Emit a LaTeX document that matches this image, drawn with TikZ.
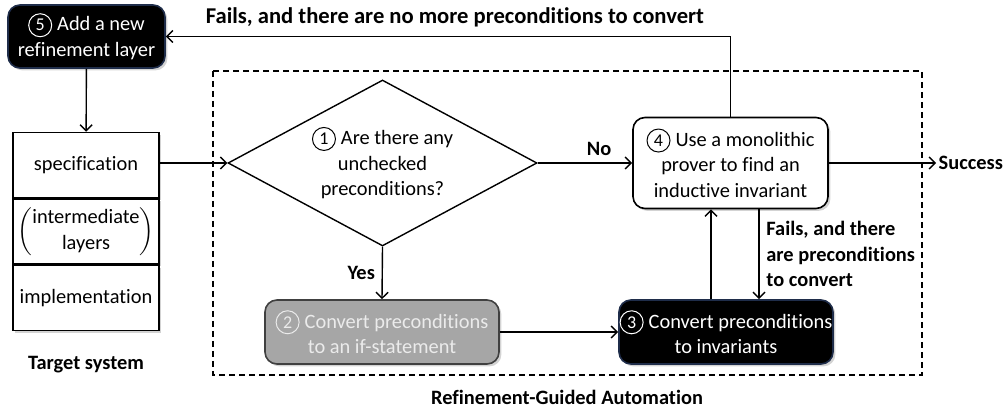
\documentclass[tikz,border=0pt]{standalone}
\usepackage{fontspec}
\setmainfont{Carlito}[Ligatures=NoCommon]
\usetikzlibrary{positioning,shapes.geometric,arrows.meta,shadows}

\definecolor{boxgray}{HTML}{A6A6A6}
\definecolor{boxedge}{HTML}{1F2D4A}

% circled step number
\newcommand{\stepno}[1]{\tikz[baseline=(s.base)]\node[circle,draw,line width=0.5pt,inner sep=0pt,minimum size=11.5pt,font=\fontsize{9}{9}\selectfont] (s) {#1};\hspace{2.5pt}}

\tikzset{
  txt/.style={font=\fontsize{10.2}{12.75}\selectfont},
  lbl/.style={font=\fontsize{10.2}{12.75}\selectfont\bfseries},
  shade/.style={drop shadow={shadow xshift=1.2pt,shadow yshift=-1.2pt,opacity=0.35}},
  stepbox/.style={txt, draw, rounded corners=6pt, align=center, inner sep=0pt, line width=0.8pt, shade},
  darkbox/.style={stepbox, fill=black, draw=boxedge, text=white},
  graybox/.style={stepbox, fill=boxgray, draw=black!75, text=white!92!black},
  whitebox/.style={stepbox, fill=white, draw=black},
  layerbox/.style={txt, draw, fill=white, minimum width=73pt, minimum height=32.5pt, inner sep=0pt, line width=0.8pt, shade},
  decision/.style={txt, diamond, draw, fill=white, aspect=1.86, inner sep=0pt, align=center, line width=0.7pt}
}

\begin{document}
\begin{tikzpicture}[x=0.5pt,y=-0.5pt, >={Straight Barb[length=3pt,width=6pt]}, line width=0.7pt]
  \useasboundingbox (0,0) rectangle (1005,410);

  %automation frame
  \draw[dash pattern=on 3pt off 2pt, line width=0.6pt] (213,71) rectangle (922,375);
  \node[lbl] (rga) at (567,397) {Refinement-Guided Automation};

  %target system
  \node[darkbox, minimum width=78.5pt, minimum height=31.5pt] (addlayer) at (86.5,36.5) {\stepno{5}Add a new\\refinement layer};
  \node[layerbox] (spec) at (86,165) {specification};
  \node[layerbox, below=0pt of spec] (inter) {$\left(\begin{tabular}{@{}c@{}}intermediate\\layers\end{tabular}\right)$};
  \node[layerbox, below=0pt of inter] (impl) {implementation};
  \node[lbl] (target) at (86,365) {Target system};

  %steps
  \node[decision, minimum width=154.5pt, minimum height=83pt] (check) at (382.5,163) {\stepno{1}Are there any\\unchecked\\preconditions?};
  \node[graybox, minimum width=117pt, minimum height=32pt] (convif) at (382,332) {\stepno{2}Convert preconditions\\to an if-statement};
  \node[darkbox, minimum width=107pt, minimum height=32pt] (convinv) at (726,332) {\stepno{3}Convert preconditions\\to invariants};
  \node[whitebox, minimum width=97.5pt, minimum height=45.5pt] (prover) at (730.5,163) {\stepno{4}Use a monolithic\\prover to find an\\inductive invariant};
  \node[lbl, anchor=west, inner sep=1pt] (success) at (936,163) {Success};

  %connectors
  \draw[->] (addlayer) -- (spec);
  \draw[->] (spec.east |- check) -- (check.west);
  \draw[->] (check.east) -- node[lbl, pos=0.65, above] {No} (prover.west);
  \draw[->] (check.south) -- node[lbl, left] {Yes} (convif.north);
  \draw[->] (convif.east) -- (convinv.west);
  \draw[->] ([xshift=-7.5pt]convinv.north) -- ([xshift=-7.5pt]convinv.north |- prover.south);
  \draw[->] ([xshift=14.25pt]prover.south) -- node[lbl, right, align=left] {Fails, and there\\are preconditions\\to convert} ([xshift=14.25pt]prover.south |- convinv.north);
  \draw[->] (prover.east) -- (success.west);
  \draw[->] (prover.north) |- node[lbl, font=\fontsize{11.3}{13}\selectfont\bfseries, pos=0.744, above, yshift=1pt] {Fails, and there are no more preconditions to convert} (addlayer.east);
\end{tikzpicture}
\end{document}
